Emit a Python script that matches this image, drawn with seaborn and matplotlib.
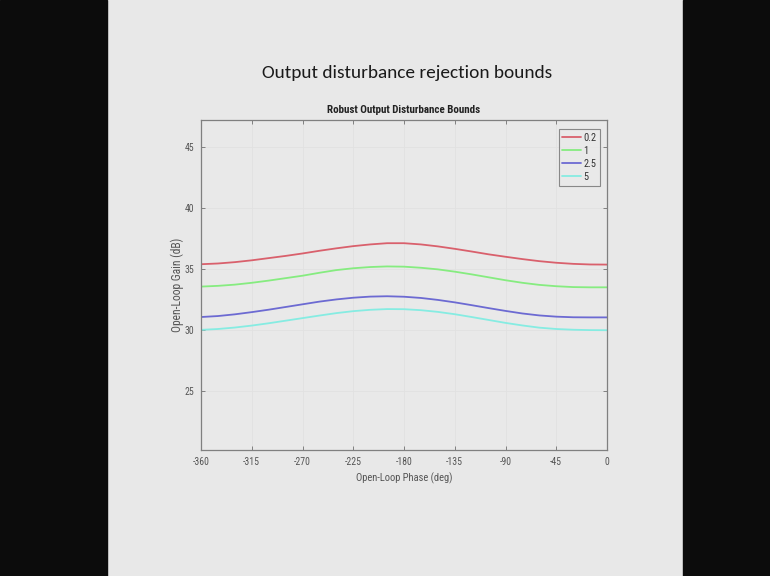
import numpy as np
import pandas as pd
import matplotlib
matplotlib.use('Agg')
from matplotlib import pyplot as plt
from matplotlib.patches import Rectangle
import seaborn as sns

# phase grid (deg) and bound values (dB)
phase = [-360, -345, -330, -315, -300, -285, -270, -255, -240, -225, -210, -195, -180,
         -165, -150, -135, -120, -105, -90, -75, -60, -45, -30, -15, 0]
bound_02 = [35.40, 35.46, 35.57, 35.72, 35.90, 36.08, 36.28, 36.50, 36.70, 36.88, 37.02, 37.12, 37.12,
            37.02, 36.86, 36.66, 36.44, 36.21, 36.01, 35.82, 35.65, 35.52, 35.43, 35.38, 35.37]
bound_1 = [33.57, 33.63, 33.73, 33.88, 34.06, 34.26, 34.46, 34.70, 34.92, 35.07, 35.17, 35.22, 35.20,
           35.11, 34.98, 34.79, 34.57, 34.33, 34.09, 33.88, 33.71, 33.60, 33.53, 33.51, 33.51]
bound_25 = [31.08, 31.16, 31.30, 31.48, 31.68, 31.90, 32.12, 32.34, 32.52, 32.66, 32.75, 32.78, 32.74,
            32.64, 32.48, 32.28, 32.05, 31.81, 31.58, 31.37, 31.21, 31.11, 31.06, 31.05, 31.05]
bound_5 = [30.03, 30.10, 30.22, 30.38, 30.57, 30.78, 30.99, 31.20, 31.40, 31.56, 31.67, 31.73, 31.72,
           31.64, 31.50, 31.31, 31.08, 30.84, 30.60, 30.39, 30.21, 30.10, 30.04, 30.01, 30.00]
labels = ['0.2', '1', '2.5', '5']
colors = ['#d9606c', '#86ec80', '#6c6ad2', '#86ece2']
x_ticks = [-360, -315, -270, -225, -180, -135, -90, -45, 0]
y_ticks = [25, 30, 35, 40, 45]

df = pd.DataFrame({
    'phase': phase * 4,
    'gain': bound_02 + bound_1 + bound_25 + bound_5,
    'freq': sum([[lab] * len(phase) for lab in labels], []),
})

sns.set_style('ticks')
# the slide was squeezed horizontally, so prefer narrow faces when they exist
plt.rcParams['font.family'] = ['Liberation Sans Narrow', 'Roboto Condensed', 'Liberation Sans', 'DejaVu Sans']
plt.rcParams['axes.unicode_minus'] = False

bg = '#e8e8e8'
fig = plt.figure(figsize=(7.7, 5.76), dpi=100, facecolor=bg)
# black borders of the video frame
fig.patches.append(Rectangle((0, 0), 107 / 770, 1, transform=fig.transFigure, color='#0c0c0c', zorder=0))
fig.patches.append(Rectangle((683 / 770, 0), 87 / 770, 1, transform=fig.transFigure, color='#0c0c0c', zorder=0))

slide_title = fig.text(407 / 770, 1 - 73 / 576, 'Output disturbance rejection bounds', ha='center', va='center',
                       fontsize=14, color='#1a1a1a',
                       family=['Carlito', 'Roboto Condensed', 'Liberation Sans Narrow', 'Lato', 'DejaVu Sans'])

ax = fig.add_axes([201 / 770, 1 - 450 / 576, 406 / 770, 330 / 576])
ax.set_facecolor('#e9e9e9')
sns.lineplot(data=df, x='phase', y='gain', hue='freq', palette=colors, linewidth=1.3, ax=ax)

ax.set_xlim(-360, 0)
ax.set_ylim(20.2, 47.2)
ax.set_xticks(x_ticks)
ax.set_yticks(y_ticks)
ax.grid(True, color='#e1e1e1', linewidth=0.6)
ax.tick_params(direction='in', length=3, width=0.7, colors='#808080', labelcolor='#555555',
               labelsize=7, top=True, right=True, pad=5)
for s in ax.spines.values():
    s.set_color('#808080')
    s.set_linewidth(0.9)

ax_title = ax.set_title('Robust Output Disturbance Bounds', fontsize=8, fontweight='bold', color='#222222', pad=5)
xl = ax.set_xlabel('Open-Loop Phase (deg)', fontsize=8, color='#555555', labelpad=4)
yl = ax.set_ylabel('Open-Loop Gain (dB)', fontsize=8, color='#555555', labelpad=0)

leg = ax.legend(title=None, loc='upper right', fontsize=7.5, handlelength=1.8, handletextpad=0.2,
                labelspacing=0.3, borderpad=0.35, borderaxespad=0, frameon=True, fancybox=False,
                bbox_to_anchor=(0.983, 0.973))
leg.get_frame().set_edgecolor('#707070')
leg.get_frame().set_facecolor('#e9e9e9')
leg.get_frame().set_linewidth(0.8)
for t in leg.get_texts():
    t.set_color('#333333')

# scale the text sizes so that the widths match the squeezed slide
fig.canvas.draw()
r = fig.canvas.get_renderer()
for txt, target, vertical in [(slide_title, 292, False), (ax_title, 155, False), (xl, 98, False), (yl, 95, True)]:
    bb = txt.get_window_extent(r)
    size = bb.height if vertical else bb.width
    txt.set_fontsize(txt.get_fontsize() * target / size)

fig.savefig('out.png', dpi=100, facecolor=bg)
